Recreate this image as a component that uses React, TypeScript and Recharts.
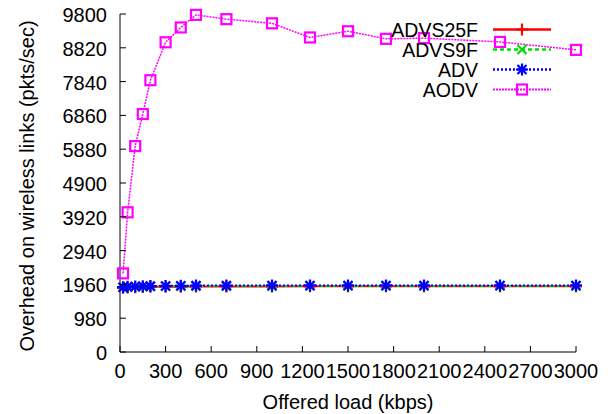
import { LineChart, Line, XAxis, YAxis, Legend } from "recharts";

const FONT = '"Liberation Sans", Arial, sans-serif';

// offered load (kbps)
const loads = [20, 50, 100, 150, 200, 300, 400, 500, 700, 1000, 1250, 1500, 1750, 2000, 2500, 3000];

// overhead (pkts/sec)
const advs25f = [1860, 1870, 1880, 1885, 1890, 1895, 1895, 1900, 1900, 1900, 1905, 1905, 1905, 1905, 1905, 1905];
const advs9f = [1870, 1880, 1890, 1895, 1900, 1905, 1905, 1910, 1910, 1910, 1915, 1915, 1915, 1915, 1915, 1915];
const adv = [1880, 1890, 1900, 1905, 1910, 1915, 1920, 1925, 1925, 1930, 1930, 1930, 1930, 1930, 1930, 1930];
const aodv = [2280, 4050, 5970, 6900, 7880, 8980, 9410, 9775, 9650, 9530, 9120, 9300, 9080, 9100, 8990, 8760];

const xTicks = [0, 300, 600, 900, 1200, 1500, 1800, 2100, 2400, 2700, 3000];
const yTicks = [0, 980, 1960, 2940, 3920, 4900, 5880, 6860, 7840, 8820, 9800];

type MarkerType = "plus" | "cross" | "star" | "square";

const SERIES: { name: string; values: number[]; color: string; dash?: string; width: number; marker: MarkerType }[] = [
  { name: "ADVS25F", values: advs25f, color: "#ff0000", width: 2, marker: "plus" },
  { name: "ADVS9F", values: advs9f, color: "#00e000", dash: "4 3", width: 2, marker: "cross" },
  { name: "ADV", values: adv, color: "#0000ff", dash: "2 2", width: 2, marker: "star" },
  { name: "AODV", values: aodv, color: "#ff00ff", dash: "2 1", width: 1.5, marker: "square" },
];

const data = loads.map((load, i) => {
  const row: Record<string, number> = { load };
  SERIES.forEach((s) => (row[s.name] = s.values[i]));
  return row;
});

function Marker({ type, cx, cy, color }: { type: MarkerType; cx: number; cy: number; color: string }) {
  const s = 6;
  const d = 4.5;
  const plus = `M${cx - s},${cy}H${cx + s}M${cx},${cy - s}V${cy + s}`;
  const cross = `M${cx - d},${cy - d}L${cx + d},${cy + d}M${cx - d},${cy + d}L${cx + d},${cy - d}`;
  if (type === "square") {
    return <rect x={cx - 5} y={cy - 5} width={10} height={10} fill="none" stroke={color} strokeWidth={2.2} />;
  }
  const path = type === "plus" ? plus : type === "cross" ? cross : plus + cross;
  return <path d={path} stroke={color} strokeWidth={2.2} fill="none" />;
}

const XTick = ({ x, y, payload, label }: any) => (
  <g>
    <line x1={x} x2={x} y1={y} y2={label ? y - 6 : y + 6} stroke="#000" />
    {label && (
      <text x={x} y={y + 26} textAnchor="middle" fontSize={20} fontFamily={FONT} fill="#000">
        {payload.value}
      </text>
    )}
  </g>
);

const YTick = ({ x, y, payload, label }: any) => (
  <g>
    <line x1={x} x2={label ? x + 6 : x - 6} y1={y} y2={y} stroke="#000" />
    {label && (
      <text x={x - 13} y={y + 8} textAnchor="end" fontSize={20} fontFamily={FONT} fill="#000">
        {payload.value}
      </text>
    )}
  </g>
);

const LegendBox = () => (
  <svg width={200} height={90} style={{ overflow: "visible" }}>
    {SERIES.map((s, i) => {
      const cy = 15.5 + i * 20;
      return (
        <g key={s.name}>
          <text x={98} y={cy + 7} textAnchor="end" fontSize={19.5} fontFamily={FONT} fill="#000">
            {s.name}
          </text>
          <line x1={113} x2={171} y1={cy} y2={cy} stroke={s.color} strokeWidth={s.width + 0.5} strokeDasharray={s.dash} />
          <Marker type={s.marker} cx={142} cy={cy} color={s.color} />
        </g>
      );
    })}
  </svg>
);

export default function App() {
  return (
    <div style={{ position: "absolute", left: 0, top: 0, background: "#fff" }}>
      <LineChart width={613} height={414} data={data} margin={{ top: 14, right: 37, left: 0, bottom: 0 }}>
        <XAxis
          xAxisId="b"
          dataKey="load"
          type="number"
          domain={[0, 3000]}
          ticks={xTicks}
          interval={0}
          height={62}
          tickSize={0}
          tickMargin={0}
          tickLine={false}
          axisLine={{ stroke: "#000" }}
          tick={<XTick label />}
          label={{
            content: ({ viewBox }: any) => (
              <text x={viewBox.x + viewBox.width / 2} y={409} textAnchor="middle" fontSize={20} fontFamily={FONT} fill="#000">
                Offered load (kbps)
              </text>
            ),
          }}
        />
        <XAxis
          xAxisId="t"
          orientation="top"
          dataKey="load"
          type="number"
          domain={[0, 3000]}
          ticks={xTicks}
          interval={0}
          height={0}
          tickSize={0}
          tickMargin={0}
          tickLine={false}
          axisLine={{ stroke: "#000" }}
          tick={<XTick />}
        />
        <YAxis
          yAxisId="l"
          type="number"
          domain={[0, 9800]}
          ticks={yTicks}
          interval={0}
          width={120}
          tickSize={0}
          tickMargin={0}
          tickLine={false}
          axisLine={{ stroke: "#000" }}
          tick={<YTick label />}
          label={{
            content: ({ viewBox }: any) => {
              const cx = 27;
              const cy = viewBox.y + viewBox.height / 2 + 3;
              return (
                <text x={cx} y={cy} transform={`rotate(-90 ${cx} ${cy})`} textAnchor="middle" dominantBaseline="central" fontSize={20} fontFamily={FONT} fill="#000">
                  Overhead on wireless links (pkts/sec)
                </text>
              );
            },
          }}
        />
        <YAxis
          yAxisId="r"
          orientation="right"
          type="number"
          domain={[0, 9800]}
          ticks={yTicks}
          interval={0}
          width={0}
          tickSize={0}
          tickMargin={0}
          tickLine={false}
          axisLine={{ stroke: "#000" }}
          tick={<YTick />}
        />
        <Legend
          layout="vertical"
          align="center"
          verticalAlign="middle"
          wrapperStyle={{ position: "absolute", left: 380, top: 14, width: 200, height: 90 }}
          content={<LegendBox />}
        />
        {SERIES.map((s) => (
          <Line
            key={s.name}
            xAxisId="b"
            yAxisId="l"
            type="linear"
            dataKey={s.name}
            stroke={s.color}
            strokeWidth={s.width}
            strokeDasharray={s.dash}
            isAnimationActive={false}
            dot={(p: any) => <Marker key={`${s.name}-${p.index}`} type={s.marker} cx={p.cx} cy={p.cy} color={s.color} />}
            activeDot={false}
          />
        ))}
      </LineChart>
    </div>
  );
}
